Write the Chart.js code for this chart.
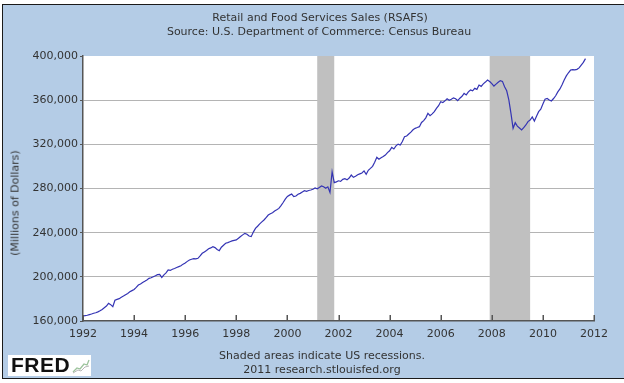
<!DOCTYPE html>
<html>
<head>
<meta charset="utf-8">
<script src="https://cdn.jsdelivr.net/npm/chart.js@4/dist/chart.umd.min.js"></script>
<style>
  html, body { margin:0; padding:0; background:#ffffff; width:624px; height:383px; overflow:hidden; }
  #frame { position:absolute; left:2px; top:4px; width:622px; height:373px; background:#b4cce6;
           border-left:1px solid #1a1a1a; border-top:1px solid #1a1a1a; border-bottom:1px solid #1a1a1a; }
  #c { position:absolute; left:0; top:0; }
  .txt { position:absolute; font-family:"DejaVu Sans", sans-serif; font-size:11px; color:#333; white-space:nowrap; transform:translateX(-50%); }
  #ytitle { position:absolute; left:15px; top:203px; font-family:"DejaVu Sans", sans-serif; font-size:11px; color:#333;
            white-space:nowrap; transform:translate(-50%,-50%) rotate(-90deg); }
  #logo { position:absolute; left:8px; top:355px; width:83px; height:21px; background:#ffffff; }
  #logo span { position:absolute; left:3px; top:-2px; font-family:"Liberation Sans", Arial, sans-serif; font-weight:bold; font-size:21px; color:#111; letter-spacing:0.5px; }
  #logo svg { position:absolute; left:64px; top:2px; }
</style>
</head>
<body>
<div id="frame"></div>
<canvas id="c" width="624" height="383"></canvas>
<div class="txt" style="left:320px; top:11px;">Retail and Food Services Sales (RSAFS)</div>
<div class="txt" style="left:319px; top:25px;">Source: U.S. Department of Commerce: Census Bureau</div>
<div id="ytitle">(Millions of Dollars)</div>
<div class="txt" style="left:322px; top:349px;">Shaded areas indicate US recessions.</div>
<div class="txt" style="left:322px; top:363px;">2011 research.stlouisfed.org</div>
<div id="logo"><span>FRED</span>
  <svg width="18" height="17" viewBox="0 0 18 17">
    <polyline points="1,15 5,11 8,12 12,7 15,8 17,3" fill="none" stroke="#9cc39c" stroke-width="1.3"/>
    <polyline points="1,16 6,13 9,14 13,10 17,9" fill="none" stroke="#b8b8b8" stroke-width="1"/>
  </svg>
</div>
<script>
// ---- data (monthly, millions of dollars) ----
const seriesYears = [1992,1993,1994,1995,1996,1997,1998,1999,2000,2001,2002,2003,2004,2005,2006,2007,2008,2009,2010,2011];
const s1992 = [164500,164900,165200,165800,166300,167000,167500,168300,169200,170500,172000,173500];
const s1993 = [176000,174800,173000,178800,179600,180200,181600,182600,183800,185000,186400,187500];
const s1994 = [188600,190400,192600,193500,194800,195900,197200,198600,199200,200100,201000,202000];
const s1995 = [202300,199500,201800,203500,206200,205800,206900,207500,208400,209200,210000,211500];
const s1996 = [212600,214000,215300,215900,216400,216200,216800,218900,221300,222600,223900,225400];
const s1997 = [226200,227300,226500,224800,223700,226800,228600,230400,231000,231800,232500,233000];
const s1998 = [233400,234900,236500,238000,239400,238600,237000,236400,240500,243900,245800,248000];
const s1999 = [249800,251500,253700,256000,257200,258100,259600,260700,262000,264500,267300,270400];
const s2000 = [272800,274000,275000,272600,273200,274800,275600,276900,278000,277400,278200,278600];
const s2001 = [279300,280500,279800,281000,282300,281600,280200,281500,276500,295200,285300,286000];
const s2002 = [287000,286500,288300,288900,287800,289500,292200,290100,291000,292400,293200,294000];
const s2003 = [295900,292800,296500,298200,300100,303800,308200,306500,307800,309000,310300,312500];
const s2004 = [314200,317300,315800,318600,320200,319400,322500,326900,327600,329400,331000,333200];
const s2005 = [334500,335200,336000,339800,341500,344000,348100,346000,347600,349600,352500,355000];
const s2006 = [358600,357800,359400,361200,359900,360800,362100,361300,359500,361800,363500,366200];
const s2007 = [364800,367500,369200,368400,370700,369800,373700,372500,374800,376400,378300,376900];
const s2008 = [375000,372800,374500,376200,377700,377000,372200,368500,360200,348000,334500,339600];
const s2009 = [336500,334800,333000,335200,337500,340600,342000,344800,341100,345500,349600,351800];
const s2010 = [356500,360800,361500,360200,359300,361500,364000,367500,370200,374000,378200,382000];
const s2011 = [384800,387300,387600,387500,387900,389200,391800,394200,397600];
const seriesValues = [s1992,s1993,s1994,s1995,s1996,s1997,s1998,s1999,s2000,s2001,s2002,s2003,s2004,s2005,s2006,s2007,s2008,s2009,s2010,s2011];

const xTickYears = [1992,1994,1996,1998,2000,2002,2004,2006,2008,2010,2012];
const yTickValues = [160000,200000,240000,280000,320000,360000,400000];
const recessionStart = [2001.167, 2007.917];
const recessionEnd   = [2001.833, 2009.500];

// ---- build points ----
const points = [];
seriesYears.forEach((yr, i) => {
  seriesValues[i].forEach((v, m) => points.push({ x: yr + m / 12, y: v }));
});

const plotBg = {
  id: 'plotBg',
  beforeDraw(chart) {
    const a = chart.chartArea, c = chart.ctx;
    c.save(); c.fillStyle = '#ffffff';
    c.fillRect(a.left, a.top, a.right - a.left, a.bottom - a.top);
    c.restore();
  }
};
const recessions = {
  id: 'recessions',
  beforeDatasetsDraw(chart) {
    const a = chart.chartArea, c = chart.ctx, xs = chart.scales.x;
    c.save(); c.fillStyle = '#c0c0c0';
    recessionStart.forEach((s, i) => {
      const x0 = xs.getPixelForValue(s), x1 = xs.getPixelForValue(recessionEnd[i]);
      c.fillRect(x0, a.top, x1 - x0, a.bottom - a.top - 1);
    });
    c.restore();
  }
};
const innerTicks = {
  id: 'innerTicks',
  afterDatasetsDraw(chart) {
    const a = chart.chartArea, c = chart.ctx, xs = chart.scales.x;
    c.save(); c.strokeStyle = '#555'; c.lineWidth = 1.5;
    xs.ticks.forEach(t => {
      const px = Math.round(xs.getPixelForValue(t.value)) + 0.25;
      c.beginPath(); c.moveTo(px, a.bottom); c.lineTo(px, a.bottom - 6); c.stroke();
    });
    c.restore();
  }
};

const tickFont = { family: 'DejaVu Sans', size: 11 };

new Chart(document.getElementById('c'), {
  type: 'line',
  data: { datasets: [{ data: points, borderColor: '#3434b4', borderWidth: 1.2, pointRadius: 0, fill: false, tension: 0 }] },
  options: {
    responsive: false, animation: false, events: [],
    layout: { padding: { left: 4, top: 56, right: 30, bottom: 0 } },
    plugins: { legend: { display: false }, tooltip: { enabled: false } },
    scales: {
      x: {
        type: 'linear', min: 1992, max: 2012,
        afterFit(s) { s.height = 62; },
        afterBuildTicks(s) { s.ticks = xTickYears.map(v => ({ value: v })); },
        ticks: { padding: 7, color: '#333', font: tickFont, maxRotation: 0, autoSkip: false, callback: v => String(v) },
        grid: { color: 'rgba(0,0,0,0)', drawTicks: false },
        border: { display: true, color: '#555', width: 1.5 }
      },
      y: {
        type: 'linear', min: 160000, max: 400000,
        afterFit(s) { s.width = 79; },
        afterBuildTicks(s) { s.ticks = yTickValues.map(v => ({ value: v })); },
        ticks: { padding: 2, color: '#333', font: tickFont, callback: v => Number(v).toLocaleString('en-US') },
        grid: {
          color: ctx => (ctx.tick && (ctx.tick.value === 160000 || ctx.tick.value === 400000)) ? 'rgba(0,0,0,0)' : '#b4b4b4',
          tickColor: '#555', tickLength: 3, drawTicks: true, lineWidth: 1
        },
        border: { display: true, color: '#555', width: 1.5 }
      }
    }
  },
  plugins: [plotBg, recessions, innerTicks]
});
</script>
</body>
</html>
